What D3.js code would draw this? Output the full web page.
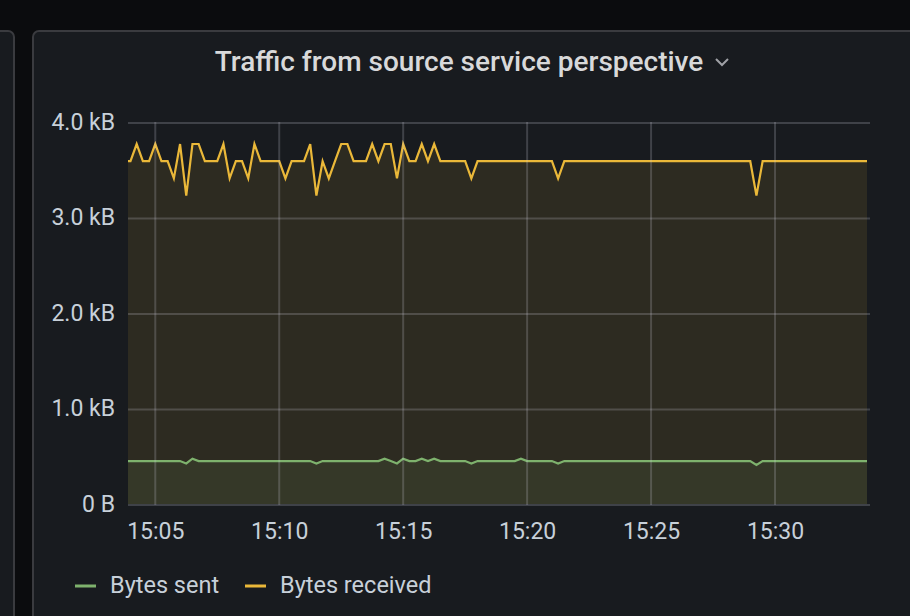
<!DOCTYPE html>
<html>
<head>
<meta charset="utf-8">
<script src="https://cdn.jsdelivr.net/npm/d3@7"></script>
<style>
  html, body { margin: 0; padding: 0; background: #0b0c0e; }
  svg { display: block; }
  text { font-family: Roboto, "Noto Sans", sans-serif; }
</style>
</head>
<body>
<svg id="chart" width="910" height="616"></svg>
<script>
// ---------------- DATA ----------------
const title = "Traffic from source service perspective";
const seriesNames = ["Bytes sent", "Bytes received"];
const startTime = "15:03:45";      // first sample
const stepSeconds = 15;             // sample interval
const timeDomain = ["15:03:54", "15:33:45"];
const xTickLabels = ["15:05", "15:10", "15:15", "15:20", "15:25", "15:30"];
const yTickValues = [0, 1, 2, 3, 4];           // kB
const yTickLabels = ["0 B", "1.0 kB", "2.0 kB", "3.0 kB", "4.0 kB"];

// Bytes received (kB), one value per 15 s sample
const bytesReceived = [
  3.6, 3.6, 3.78, 3.6, 3.6, 3.78, 3.6, 3.6, 3.42, 3.78,
  3.24, 3.78, 3.78, 3.6, 3.6, 3.6, 3.78, 3.42, 3.6, 3.6,
  3.42, 3.78, 3.6, 3.6, 3.6, 3.6, 3.42, 3.6, 3.6, 3.6,
  3.78, 3.24, 3.6, 3.42, 3.6, 3.78, 3.78, 3.6, 3.6, 3.6,
  3.78, 3.6, 3.78, 3.78, 3.42, 3.78, 3.6, 3.6, 3.78, 3.6,
  3.78, 3.6, 3.6, 3.6, 3.6, 3.6, 3.42, 3.6, 3.6, 3.6,
  3.6, 3.6, 3.6, 3.6, 3.6, 3.6, 3.6, 3.6, 3.6, 3.6,
  3.42, 3.6, 3.6, 3.6, 3.6, 3.6, 3.6, 3.6, 3.6, 3.6,
  3.6, 3.6, 3.6, 3.6, 3.6, 3.6, 3.6, 3.6, 3.6, 3.6,
  3.6, 3.6, 3.6, 3.6, 3.6, 3.6, 3.6, 3.6, 3.6, 3.6,
  3.6, 3.6, 3.24, 3.6, 3.6, 3.6, 3.6, 3.6, 3.6, 3.6,
  3.6, 3.6, 3.6, 3.6, 3.6, 3.6, 3.6, 3.6, 3.6, 3.6,
  3.6
];
// Bytes sent (kB)
const bytesSent = [
  0.46, 0.46, 0.46, 0.46, 0.46, 0.46, 0.46, 0.46, 0.46, 0.46,
  0.435, 0.485, 0.46, 0.46, 0.46, 0.46, 0.46, 0.46, 0.46, 0.46,
  0.46, 0.46, 0.46, 0.46, 0.46, 0.46, 0.46, 0.46, 0.46, 0.46,
  0.46, 0.435, 0.46, 0.46, 0.46, 0.46, 0.46, 0.46, 0.46, 0.46,
  0.46, 0.46, 0.485, 0.46, 0.435, 0.485, 0.46, 0.46, 0.485, 0.46,
  0.485, 0.46, 0.46, 0.46, 0.46, 0.46, 0.435, 0.46, 0.46, 0.46,
  0.46, 0.46, 0.46, 0.46, 0.485, 0.46, 0.46, 0.46, 0.46, 0.46,
  0.435, 0.46, 0.46, 0.46, 0.46, 0.46, 0.46, 0.46, 0.46, 0.46,
  0.46, 0.46, 0.46, 0.46, 0.46, 0.46, 0.46, 0.46, 0.46, 0.46,
  0.46, 0.46, 0.46, 0.46, 0.46, 0.46, 0.46, 0.46, 0.46, 0.46,
  0.46, 0.46, 0.42, 0.46, 0.46, 0.46, 0.46, 0.46, 0.46, 0.46,
  0.46, 0.46, 0.46, 0.46, 0.46, 0.46, 0.46, 0.46, 0.46, 0.46,
  0.46
];
const colors = { sent: "#7EB26D", received: "#EAB839" };

// ---------------- HELPERS ----------------
function parseHMS(s) {
  const p = s.split(":").map(Number);
  return new Date(2024, 0, 1, p[0], p[1], p[2] || 0);
}
const t0 = parseHMS(startTime);
const times = bytesReceived.map((_, i) => new Date(t0.getTime() + i * stepSeconds * 1000));
const recData = bytesReceived.map((v, i) => ({ t: times[i], v }));
const sentData = bytesSent.map((v, i) => ({ t: times[i], v }));

// ---------------- LAYOUT ----------------
const svg = d3.select("#chart");
const plot = { left: 128, right: 868, top: 123, bottom: 505 };

svg.append("rect").attr("width", 910).attr("height", 616).attr("fill", "#0b0c0e");
// neighbouring panel (left, cut off)
svg.append("rect").attr("x", -40).attr("y", 31).attr("width", 54).attr("height", 700)
  .attr("rx", 6).attr("fill", "#181b1f").attr("stroke", "#3a3b3f").attr("stroke-width", 2);
// main panel
svg.append("rect").attr("x", 33).attr("y", 31).attr("width", 920).attr("height", 700)
  .attr("rx", 6).attr("fill", "#181b1f").attr("stroke", "#3a3b3f").attr("stroke-width", 2);

// title
svg.append("text").attr("x", 459).attr("y", 71).attr("text-anchor", "middle")
  .attr("font-size", 28).attr("font-weight", 500).attr("fill", "#d8d9da").text(title);
svg.append("path").attr("d", "M716,59 L722,65 L728,59").attr("fill", "none")
  .attr("stroke", "#9fa1a6").attr("stroke-width", 2);

// scales
const x = d3.scaleTime().domain(timeDomain.map(parseHMS)).range([plot.left, plot.right]);
const y = d3.scaleLinear().domain([0, 4]).range([plot.bottom, plot.top]);

// clip
svg.append("defs").append("clipPath").attr("id", "clip")
  .append("rect").attr("x", plot.left).attr("y", 0).attr("width", 867 - plot.left).attr("height", plot.bottom);

const gridColor = "rgba(204,204,220,0.22)";

// areas
const area = d3.area().x(d => x(d.t)).y0(y(0) - 1).y1(d => y(d.v));
const line = d3.line().x(d => x(d.t)).y(d => y(d.v));
const g = svg.append("g").attr("clip-path", "url(#clip)");
g.append("path").datum(recData).attr("d", area).attr("fill", colors.received).attr("fill-opacity", 0.1);
g.append("path").datum(sentData).attr("d", area).attr("fill", colors.sent).attr("fill-opacity", 0.1);

// grid
const xTicks = xTickLabels.map(parseHMS);
svg.append("g").selectAll("line").data(yTickValues).join("line")
  .attr("x1", plot.left).attr("x2", 870).attr("y1", d => y(d)).attr("y2", d => y(d))
  .attr("stroke", gridColor).attr("stroke-width", 2);
svg.append("g").selectAll("line").data(xTicks).join("line")
  .attr("x1", d => x(d)).attr("x2", d => x(d)).attr("y1", plot.top - 1).attr("y2", plot.bottom)
  .attr("stroke", gridColor).attr("stroke-width", 2);

// lines
g.append("path").datum(recData).attr("d", line).attr("fill", "none")
  .attr("stroke", colors.received).attr("stroke-width", 2.2).attr("stroke-linejoin", "miter");
g.append("path").datum(sentData).attr("d", line).attr("fill", "none")
  .attr("stroke", colors.sent).attr("stroke-width", 2.2).attr("stroke-linejoin", "miter");

// axes
const yAxis = d3.axisLeft(y).tickValues(yTickValues).tickSize(0).tickPadding(13)
  .tickFormat((d, i) => yTickLabels[i]);
const ya = svg.append("g").attr("transform", `translate(${plot.left},0)`).call(yAxis);
ya.select(".domain").remove();
ya.selectAll("text").attr("font-size", 23).attr("fill", "#c7d0d9")
  .attr("font-family", "Roboto, sans-serif").attr("dy", "0.28em");

const xAxis = d3.axisBottom(x).tickValues(xTicks).tickSize(0).tickPadding(18)
  .tickFormat((d, i) => xTickLabels[i]);
const xa = svg.append("g").attr("transform", `translate(0,${plot.bottom})`).call(xAxis);
xa.select(".domain").remove();
xa.selectAll("text").attr("font-size", 23).attr("fill", "#c7d0d9")
  .attr("font-family", "Roboto, sans-serif");

// legend
const legend = [
  { name: seriesNames[0], color: colors.sent, x: 75 },
  { name: seriesNames[1], color: colors.received, x: 245 }
];
const lg = svg.append("g").selectAll("g").data(legend).join("g")
  .attr("transform", d => `translate(${d.x},586)`);
lg.append("line").attr("x1", 0).attr("x2", 21).attr("y1", 0).attr("y2", 0)
  .attr("stroke", d => d.color).attr("stroke-width", 3);
lg.append("text").attr("x", 35).attr("y", 7).attr("font-size", 23.5).attr("fill", "#c7d0d9")
  .text(d => d.name);
</script>
</body>
</html>
